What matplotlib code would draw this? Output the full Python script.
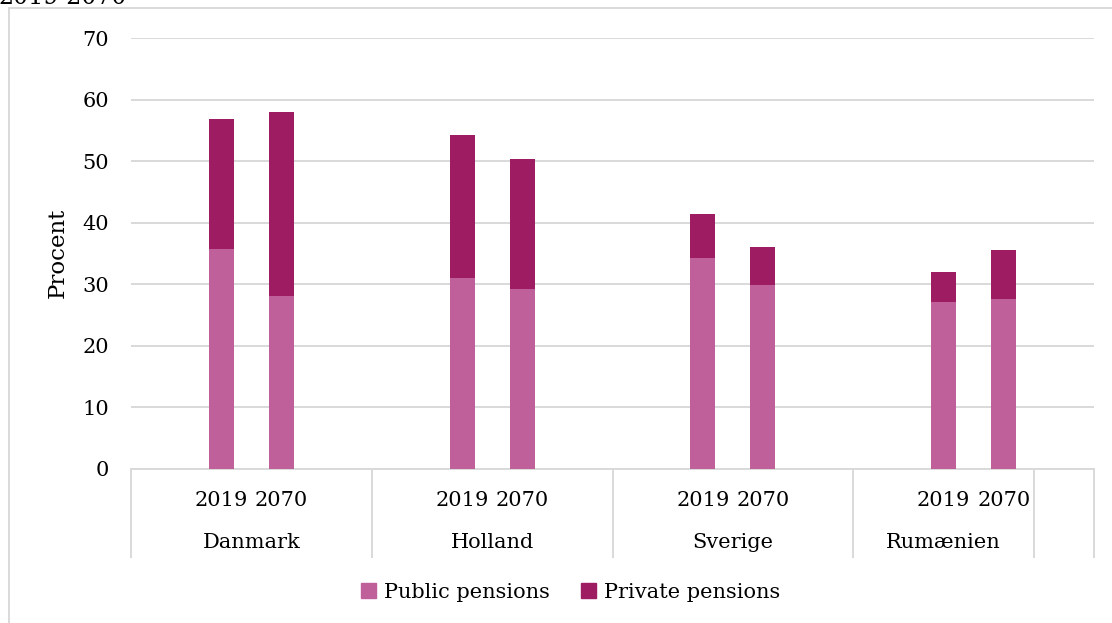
import matplotlib
matplotlib.use("Agg")
import matplotlib.pyplot as plt
from matplotlib.patches import Patch
from matplotlib.lines import Line2D

# Pension expenditure shares, per country and year
countries = ["Danmark", "Holland", "Sverige", "Rumænien"]
years = ["2019", "2070"]
public = [35.7, 28.1, 31.0, 29.2, 34.3, 29.9, 27.1, 27.6]
private = [21.1, 29.9, 23.2, 21.1, 7.1, 6.1, 4.9, 8.0]
yticks = [0, 10, 20, 30, 40, 50, 60, 70]
series_names = ["Public pensions", "Private pensions"]
title_text = "2019-2070"

col_public = "#C0609A"
col_private = "#9E1C62"
grid_col = "#D9D9D9"
font = "DejaVu Serif"
fs = 15

W, H = 1112, 623
fig = plt.figure(figsize=(W / 100, H / 100), dpi=100)
plt.rcParams["font.family"] = font

# axes in pixel geometry
left, right, top, bottom = 131, 1094, 38, 469
ax = fig.add_axes([left / W, (H - bottom) / H, (right - left) / W, (bottom - top) / H])

# slot layout: each country has an empty slot either side of its two bars
slots_per_group = 4
n_slots = slots_per_group * len(countries)
xpos = []
for g in range(len(countries)):
    for k in range(len(years)):
        xpos.append(g * slots_per_group + 1 + k + 0.5)

bw = 0.415
ax.bar(xpos, public, width=bw, color=col_public, zorder=3)
ax.bar(xpos, private, width=bw, bottom=public, color=col_private, zorder=3)

ax.set_xlim(0, n_slots)
ax.set_ylim(0, 70)
ax.set_yticks(yticks)
ax.set_yticklabels([str(t) for t in yticks], fontsize=fs)
ax.tick_params(axis="y", length=0, pad=16)
ax.set_xticks([])
ax.grid(axis="y", color=grid_col, linewidth=1.4, zorder=0)
for s in ["left", "right", "top"]:
    ax.spines[s].set_visible(False)
ax.spines["bottom"].set_color(grid_col)
ax.spines["bottom"].set_linewidth(1.4)

# y-axis title
fig.text(58 / W, 1 - 253 / H, "Procent", rotation=90, fontsize=16.5,
         ha="center", va="center")

# multi-level category axis
axh = bottom - top
trans = ax.get_xaxis_transform()
sep_depth = -88 / axh
separators = [0, 4, 8, 12, 15, 16]
for sx in separators:
    ax.add_line(Line2D([sx, sx], [0, sep_depth], transform=trans, color=grid_col,
                       linewidth=1.4, clip_on=False))

for i, x in enumerate(xpos):
    ax.text(x, -31 / axh, years[i % len(years)], transform=trans, ha="center",
            va="center", fontsize=fs)

group_spans = [(0, 4), (4, 8), (8, 12), (12, 15)]
for name, (a, b) in zip(countries, group_spans):
    ax.text((a + b) / 2, -74 / axh, name, transform=trans, ha="center",
            va="center", fontsize=fs)

# legend
handles = [Patch(color=col_public), Patch(color=col_private)]
fig.legend(handles, series_names, loc="center", bbox_to_anchor=(571 / W, 1 - 592 / H),
           ncol=2, frameon=False, fontsize=fs, handlelength=0.7, handleheight=0.7,
           handletextpad=0.4, columnspacing=1.5)

# outer chart frame
fig.add_artist(Line2D([9 / W, 1], [1 - 8 / H, 1 - 8 / H], color=grid_col, linewidth=1.4,
                      transform=fig.transFigure))
fig.add_artist(Line2D([9 / W, 9 / W], [0, 1 - 8 / H], color=grid_col, linewidth=1.4,
                      transform=fig.transFigure))

# title running off the top edge
fig.text(-2 / W, 1 - 4 / H, title_text, fontsize=17, va="baseline", ha="left")

fig.savefig("out.png", dpi=100)
